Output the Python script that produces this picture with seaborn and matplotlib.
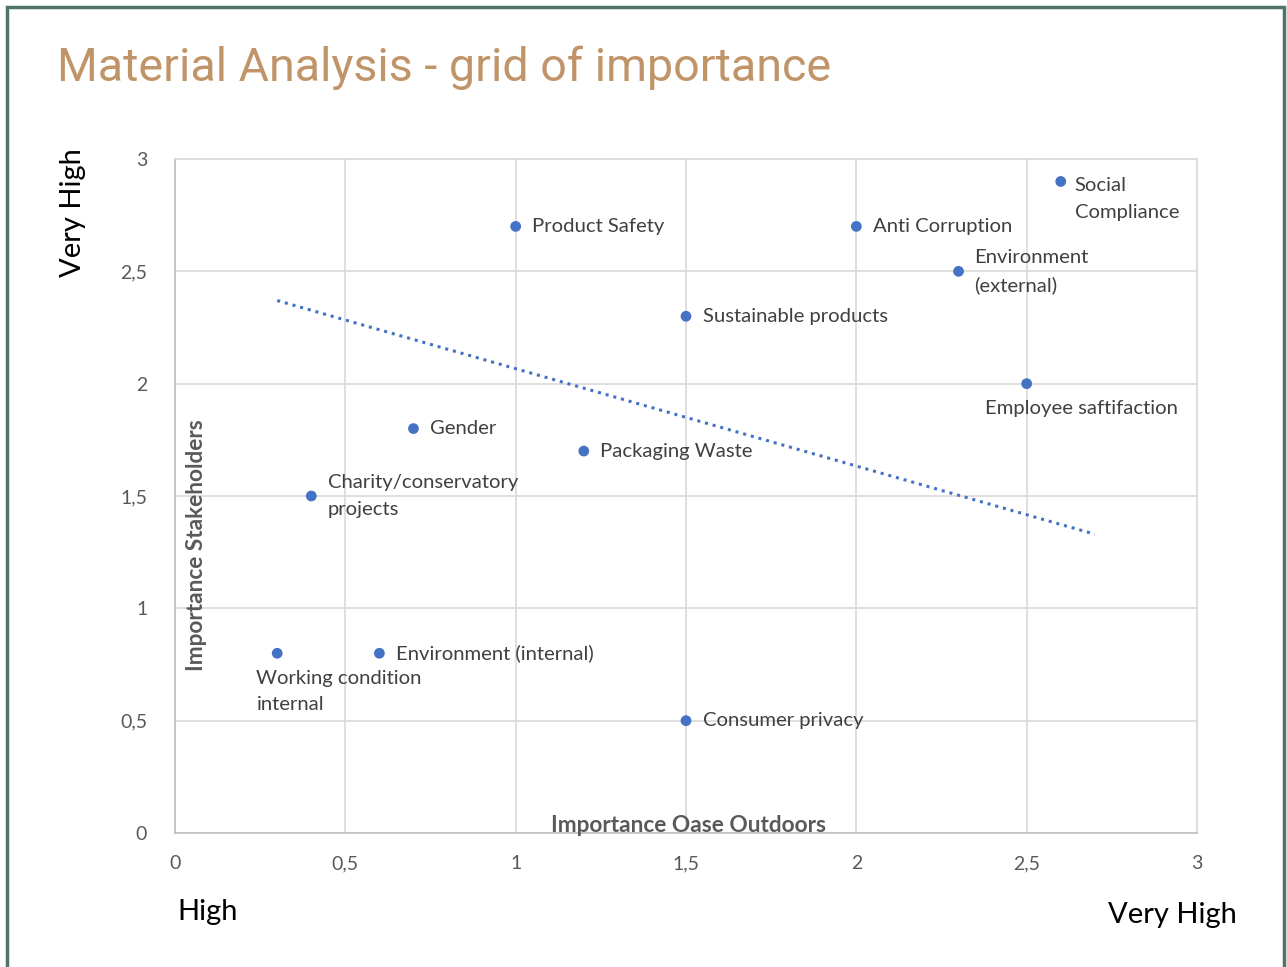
import matplotlib
matplotlib.use("Agg")
import matplotlib.pyplot as plt
import seaborn as sns
import pandas as pd
from matplotlib.patches import Rectangle

# ---- data ----
topics = ["Social\nCompliance", "Product Safety", "Anti Corruption", "Environment\n(external)",
          "Sustainable products", "Employee saftifaction", "Gender", "Packaging Waste",
          "Charity/conservatory\nprojects", "Working condition\ninternal",
          "Environment (internal)", "Consumer privacy"]
importance_oase = [2.6, 1.0, 2.0, 2.3, 1.5, 2.5, 0.7, 1.2, 0.4, 0.3, 0.6, 1.5]
importance_stakeholders = [2.9, 2.7, 2.7, 2.5, 2.3, 2.0, 1.8, 1.7, 1.5, 0.8, 0.8, 0.5]
trend_x = [0.3, 2.7]
trend_y = [2.37, 1.33]
tick_values = [0, 0.5, 1, 1.5, 2, 2.5, 3]
tick_labels = ["0", "0,5", "1", "1,5", "2", "2,5", "3"]

df = pd.DataFrame({"topic": topics, "x": importance_oase, "y": importance_stakeholders})
trend = pd.DataFrame({"x": trend_x, "y": trend_y})

sns.set_theme(style="white")
plt.rcParams["font.family"] = ["Lato", "DejaVu Sans"]

W, H = 1287, 967
fig = plt.figure(figsize=(W / 100, H / 100), dpi=100)
ax = fig.add_axes([175 / W, 1 - 833 / H, (1197 - 175) / W, (833 - 159) / H])

blue = "#4472C4"
grid = "#D9D9D9"
tick_col = "#595959"

sns.lineplot(data=trend, x="x", y="y", ax=ax, color=blue, linestyle=(0, (1, 1.6)),
             linewidth=2.2, zorder=2)
sns.scatterplot(data=df, x="x", y="y", ax=ax, color=blue, s=60, edgecolor="none", zorder=3)

ax.set_xlim(0, 3)
ax.set_ylim(0, 3)
ax.set_xticks(tick_values)
ax.set_xticklabels(tick_labels)
ax.set_yticks(tick_values)
ax.set_yticklabels(tick_labels)
ax.tick_params(axis="both", length=0, labelsize=14, colors=tick_col)
ax.tick_params(axis="x", pad=16)
ax.tick_params(axis="y", pad=20)
ax.grid(True, color=grid, linewidth=1.2)
for s in ax.spines.values():
    s.set_color(grid)
    s.set_linewidth(1.2)
ax.spines["left"].set_color("#BFBFBF")
ax.spines["bottom"].set_color("#BFBFBF")
ax.set_xlabel("")
ax.set_ylabel("")

# label placement (offsets in points, alignment)
layout = {
    "Social\nCompliance": ((10, 3), "left", "top"),
    "Product Safety": ((12, 0), "left", "center"),
    "Anti Corruption": ((12, 0), "left", "center"),
    "Environment\n(external)": ((11, 0), "left", "center"),
    "Sustainable products": ((12, 0), "left", "center"),
    "Employee saftifaction": ((-30, -12), "left", "top"),
    "Gender": ((12, 0), "left", "center"),
    "Packaging Waste": ((12, 0), "left", "center"),
    "Charity/conservatory\nprojects": ((12, 0), "left", "center"),
    "Working condition\ninternal": ((-15, -12), "left", "top"),
    "Environment (internal)": ((12, 0), "left", "center"),
    "Consumer privacy": ((12, 0), "left", "center"),
}
for t, xv, yv in zip(topics, importance_oase, importance_stakeholders):
    off, ha, va = layout[t]
    ax.annotate(t, (xv, yv), xytext=off, textcoords="offset points", ha=ha, va=va,
                fontsize=14.6, color="#404040", linespacing=1.68, zorder=4)

# axis titles inside plot area
ax.text(0.0215, 0.427, "Importance Stakeholders", transform=ax.transAxes, rotation=90,
        ha="center", va="center", fontsize=16.3, fontweight="bold", color=tick_col)
ax.text(0.502, 0.0104, "Importance Oase Outdoors", transform=ax.transAxes,
        ha="center", va="center", fontsize=16.3, fontweight="bold", color=tick_col)

# corner annotations
fig.text(73 / W, 1 - 213 / H, "Very High", rotation=90, ha="center", va="center",
         fontsize=21, color="black")
fig.text(177 / W, 1 - 912 / H, "High", ha="left", va="center", fontsize=21, color="black")
fig.text(1237 / W, 1 - 915 / H, "Very High", ha="right", va="center", fontsize=21, color="black")

# title
fig.text(57 / W, 1 - 68 / H, "Material Analysis - grid of importance", ha="left", va="center",
         fontsize=33.6, color="#C09468", family=["Roboto", "DejaVu Sans"])

# slide border
fig.patches.append(Rectangle((7 / W, -0.01), (1284 - 7) / W, 1 - 7 / H + 0.01,
                             transform=fig.transFigure, fill=False, edgecolor="#4E7566",
                             linewidth=2.5))

fig.savefig("out.png", dpi=100, facecolor="white")
